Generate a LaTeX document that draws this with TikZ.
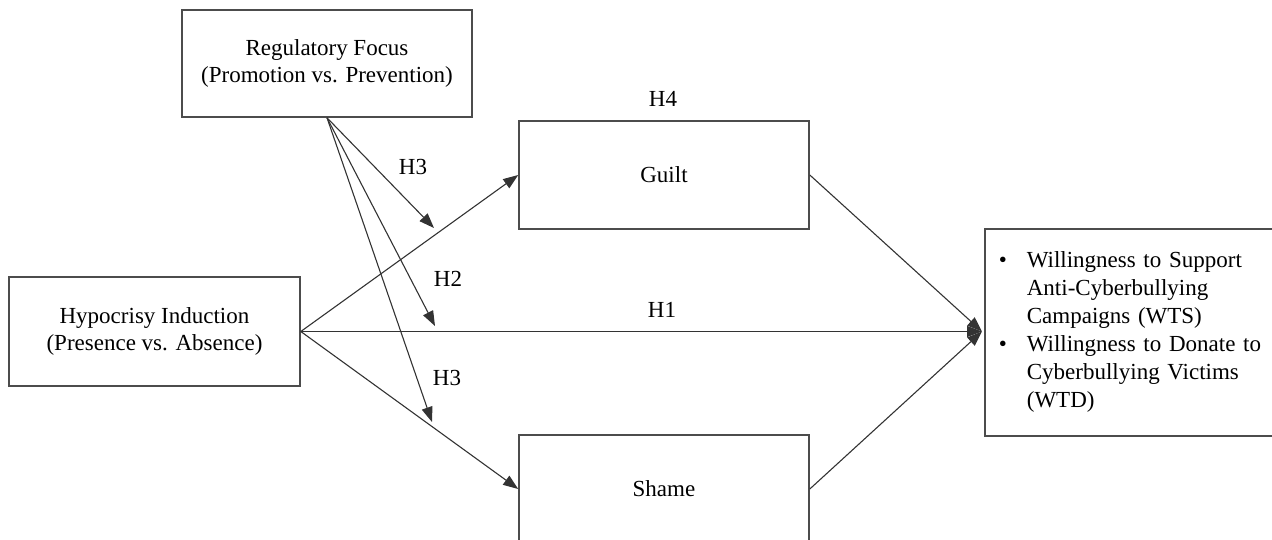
\documentclass[tikz,border=0pt]{standalone}
\usepackage{fontspec}
\setmainfont{Liberation Serif}
\usetikzlibrary{arrows.meta}
\begin{document}
\begin{tikzpicture}[x=1pt,y=-1pt,
  box/.style={draw=black!70, line width=1.6pt, rectangle, inner sep=0pt, align=center,
    font=\fontsize{23}{27}\selectfont},
  arr/.style={draw=black!80, line width=1.1pt, -{Triangle[length=15pt,width=11pt]}},
  lab/.style={anchor=base, inner sep=0pt, font=\fontsize{23}{27}\selectfont}]
\useasboundingbox (0,0) rectangle (1272,540);
\begin{scope}
\clip (0,0) rectangle (1272,540);
\node[box, minimum width=290pt, minimum height=107pt] (reg) at (327,63.5) {Regulatory Focus\\(Promotion vs. Prevention)};
\node[box, minimum width=290pt, minimum height=108pt] (guilt) at (664,175) {Guilt};
\node[box, minimum width=291pt, minimum height=109pt] (hyp) at (154.5,331.5) {Hypocrisy Induction\\(Presence vs. Absence)};
\node[box, minimum width=290pt, minimum height=108pt] (shame) at (664,489) {Shame};
\node[box, anchor=north west, minimum width=320pt, minimum height=207pt, align=left, inner xsep=14pt, text width=292pt, font=\fontsize{23}{28}\selectfont] (out) at (984,228)
  {\begin{tabular}{@{}l@{\hspace{20pt}}l@{}}
   \textbullet & Willingness to Support\\
   & Anti-Cyberbullying\\
   & Campaigns (WTS)\\
   \textbullet & Willingness to Donate to\\
   & Cyberbullying Victims\\
   & (WTD)
   \end{tabular}};
\end{scope}
\coordinate (t) at (982,331.5);
\coordinate (m1) at (434,228);
\coordinate (m2) at (435,326);
\coordinate (m3) at (432,422);
\draw[arr] (hyp.east) -- (guilt.west);
\draw[arr] (hyp.east) -- (t);
\draw[arr] (hyp.east) -- (shame.west);
\draw[arr] (guilt.east) -- (t);
\draw[arr] (shame.east) -- (t);
\draw[arr] (reg.south) -- (m1);
\draw[arr] (reg.south) -- (m2);
\draw[arr] (reg.south) -- (m3);
\node[lab] (h4) at (663,107) {H4};
\node[lab] (h1) at (662,317) {H1};
\node[lab] (h3a) at (413,175) {H3};
\node[lab] (h2) at (448,287) {H2};
\node[lab] (h3b) at (447,385) {H3};
\end{tikzpicture}
\end{document}
